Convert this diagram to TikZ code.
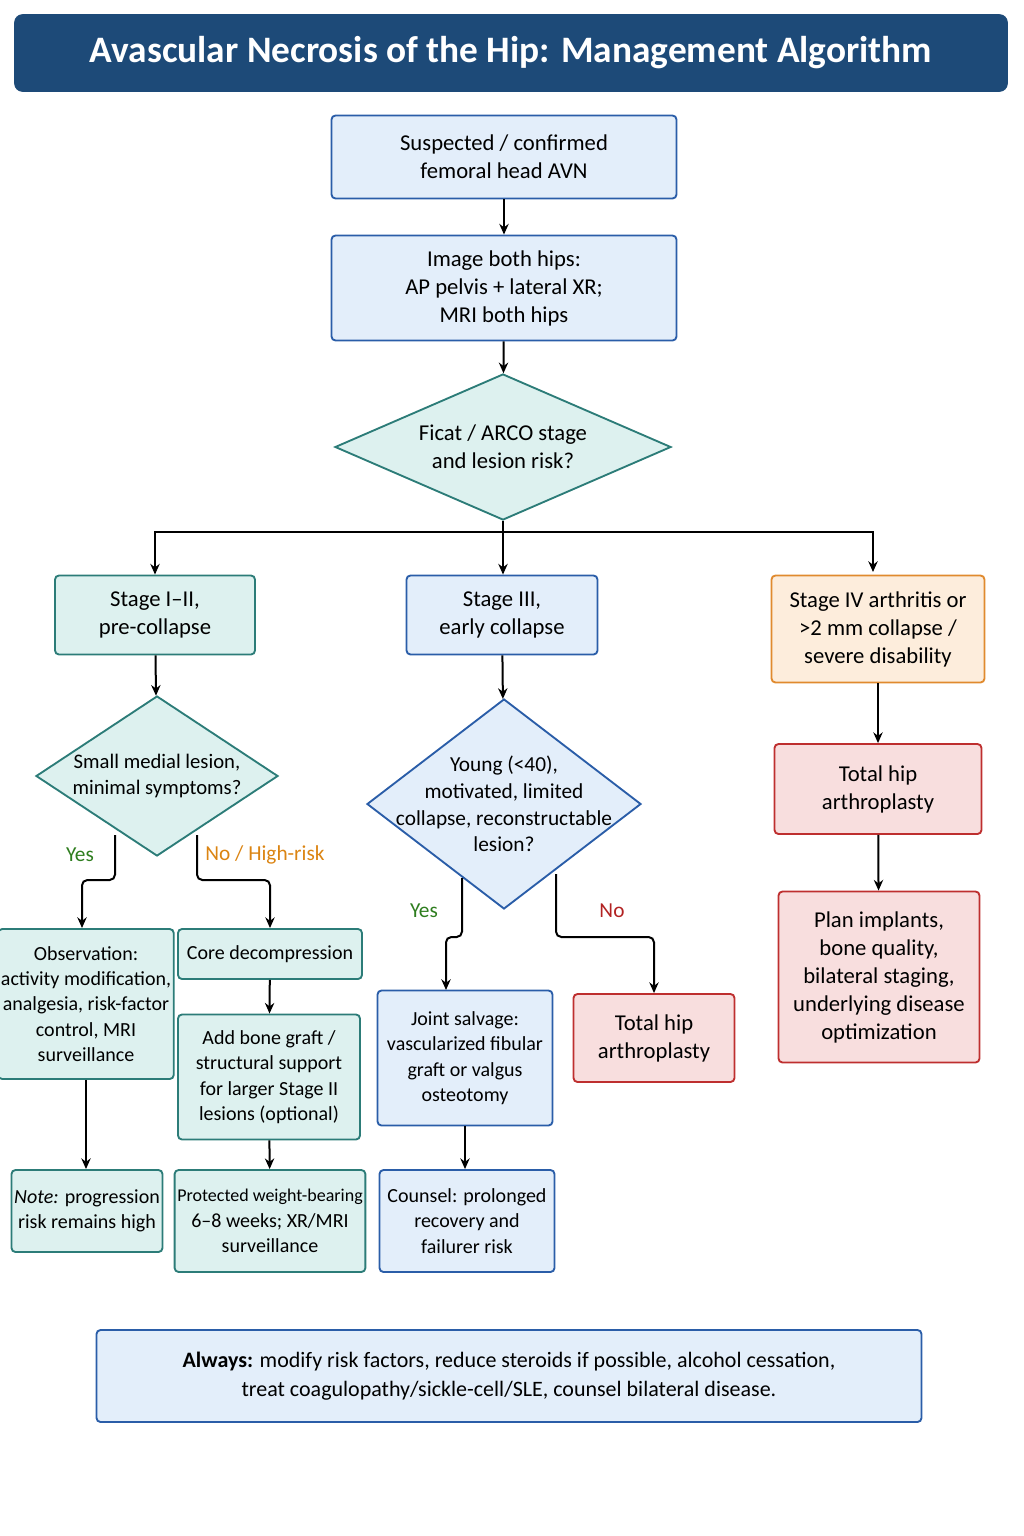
\documentclass[tikz,border=0pt]{standalone}
\usepackage{fontspec}
\setmainfont{Carlito}
\usetikzlibrary{shapes.geometric,arrows.meta}
\definecolor{titleblue}{HTML}{1D4A78}
\definecolor{bluefill}{HTML}{E3EEFA}
\definecolor{blueline}{HTML}{2A5DA8}
\definecolor{tealfill}{HTML}{DDF1EF}
\definecolor{tealline}{HTML}{2C7C78}
\definecolor{orangefill}{HTML}{FDEDDC}
\definecolor{orangeline}{HTML}{E08A2E}
\definecolor{redfill}{HTML}{F8DEDE}
\definecolor{redline}{HTML}{BE2F2F}
\definecolor{yesgreen}{HTML}{2E7D1E}
\definecolor{noorange}{HTML}{DB8412}
\definecolor{nored}{HTML}{B22222}
\tikzset{
  box/.style={draw, rounded corners=3pt, line width=1.4pt, align=center, inner sep=2pt,
    font=\fontsize{17}{21}\selectfont},
  bluebox/.style={box, fill=bluefill, draw=blueline},
  tealbox/.style={box, fill=tealfill, draw=tealline},
  orangebox/.style={box, fill=orangefill, draw=orangeline},
  redbox/.style={box, fill=redfill, draw=redline},
  smalltxt/.style={font=\fontsize{15}{19}\selectfont},
  decision/.style={draw, diamond, aspect=1.5, inner sep=-30pt, line width=1.4pt, align=center,
    font=\fontsize{17}{21}\selectfont},
  arrow/.style={-{Stealth[length=8pt,width=7pt]}, line width=1.5pt},
  branchlabel/.style={font=\fontsize{16}{19}\selectfont}
}
\begin{document}
\begin{tikzpicture}[x=0.75pt,y=-0.75pt]
\useasboundingbox (0,0) rectangle (1024,1536);
% title
\node[draw=titleblue, fill=titleblue, rounded corners=6pt, minimum width=993*0.75pt, minimum height=77*0.75pt,
  text=white, font=\fontsize{28}{32}\selectfont\bfseries] (title) at (511,53)
  {Avascular Necrosis of the Hip: Management Algorithm};

% main column
\node[bluebox, minimum width=345*0.75pt, minimum height=83*0.75pt] (suspect) at (504,157)
  {Suspected / confirmed\\femoral head AVN};
\node[bluebox, minimum width=345*0.75pt, minimum height=105*0.75pt] (imaging) at (504,288)
  {Image both hips:\\AP pelvis + lateral XR;\\MRI both hips};
\node[decision, fill=tealfill, draw=tealline, minimum width=336*0.75pt, minimum height=146*0.75pt] (stage) at (503,447)
  {Ficat / ARCO stage\\and lesion risk?};

% stages
\node[tealbox, minimum width=200*0.75pt, minimum height=79*0.75pt] (early) at (155,615)
  {Stage I--II,\\pre-collapse};
\node[bluebox, minimum width=191*0.75pt, minimum height=79*0.75pt] (collapse) at (502,615)
  {Stage III,\\early collapse};
\node[orangebox, minimum width=213*0.75pt, minimum height=107*0.75pt] (late) at (878,629)
  {Stage IV arthritis or\\>2 mm collapse /\\severe disability};

% left branch
\node[decision, fill=tealfill, draw=tealline, font=\fontsize{15.5}{20}\selectfont,
  minimum width=242*0.75pt, minimum height=160*0.75pt] (small) at (157,776)
  {Small medial lesion,\\minimal symptoms?};
\node[tealbox, smalltxt, minimum width=162*0.75pt, minimum height=150*0.75pt] (observe) at (86,1004)
  {Observation:\\activity modification,\\analgesia, risk-factor\\control, MRI\\surveillance};
\node[tealbox, smalltxt, minimum width=184*0.75pt, minimum height=50*0.75pt] (core) at (270,954)
  {Core decompression};
\node[tealbox, smalltxt, minimum width=182*0.75pt, minimum height=125*0.75pt] (graft) at (269,1077)
  {Add bone graft /\\structural support\\for larger Stage II\\lesions (optional)};
\node[tealbox, smalltxt, minimum width=151*0.75pt, minimum height=82*0.75pt] (note) at (87,1211)
  {\textit{Note:} progression\\risk remains high};
\node[tealbox, smalltxt, minimum width=185*0.75pt, minimum height=102*0.75pt] (protect) at (270,1221)
  {\fontsize{13.5}{19}\selectfont Protected weight-bearing\\6--8 weeks; XR/MRI\\surveillance};

% middle branch
\node[decision, fill=bluefill, draw=blueline, font=\fontsize{16}{20}\selectfont,
  minimum width=274*0.75pt, minimum height=210*0.75pt] (young) at (504,804)
  {Young (<40),\\motivated, limited\\collapse, reconstructable\\lesion?};
\node[bluebox, smalltxt, minimum width=175*0.75pt, minimum height=135*0.75pt] (salvage) at (465,1058)
  {Joint salvage:\\vascularized fibular\\graft or valgus\\osteotomy};
\node[bluebox, smalltxt, minimum width=175*0.75pt, minimum height=102*0.75pt] (counsel) at (467,1221)
  {Counsel: prolonged\\recovery and\\failurer risk};
\node[redbox, minimum width=161*0.75pt, minimum height=88*0.75pt] (thamid) at (654,1038)
  {Total hip\\arthroplasty};

% right branch
\node[redbox, minimum width=207*0.75pt, minimum height=90*0.75pt] (tharight) at (878,789)
  {Total hip\\arthroplasty};
\node[redbox, minimum width=201*0.75pt, minimum height=171*0.75pt] (plan) at (879,977)
  {Plan implants,\\bone quality,\\bilateral staging,\\underlying disease\\optimization};

% footer
\node[bluebox, minimum width=825*0.75pt, minimum height=92*0.75pt, font=\fontsize{16.5}{22}\selectfont] (always) at (509,1376)
  {\textbf{Always:} modify risk factors, reduce steroids if possible, alcohol cessation,\\treat coagulopathy/sickle-cell/SLE, counsel bilateral disease.};

% connectors
\coordinate (split) at (503,532);
\draw[arrow] (suspect) -- (imaging);
\draw[arrow] (imaging) -- (stage);
\draw[line width=1.5pt] (stage.south) -- (split);
\draw[arrow] (split) -| (early.north);
\draw[arrow] (split) -- (split |- collapse.north);
\draw[arrow] (split) -| (873,572);
\draw[arrow] (early) -- (small);
\draw[arrow] (collapse) -- (young);
\draw[arrow] (late) -- (tharight);
\draw[arrow] (tharight) -- (plan);

\coordinate (yesL) at (115,835);
\coordinate (noL) at (197,835);
\draw[arrow, rounded corners=4pt] (yesL) -- (115,880) -| (82,928);
\draw[arrow, rounded corners=4pt] (noL) -- (197,880) -| (core.north);
\node[branchlabel, text=yesgreen] (yeslab) at (80,855) {Yes};
\node[branchlabel, text=noorange] (nolab) at (265,855) {No / High-risk};
\draw[arrow] (observe.south -| 86,0) -- (note.north -| 86,0);
\draw[arrow] (core) -- (graft);
\draw[arrow] (graft) -- (protect);

\coordinate (yesM) at (462,878);
\coordinate (noM) at (556,874);
\draw[arrow, rounded corners=4pt] (yesM) -- (462,937) -| (446,990);
\draw[arrow, rounded corners=4pt] (noM) -- (556,937) -| (thamid.north);
\node[branchlabel, text=yesgreen] (yeslab2) at (424,911) {Yes};
\node[branchlabel, text=nored] (nolab2) at (612,911) {No};
\draw[arrow] (salvage.south -| 465,0) -- (counsel.north -| 465,0);
\end{tikzpicture}
\end{document}
